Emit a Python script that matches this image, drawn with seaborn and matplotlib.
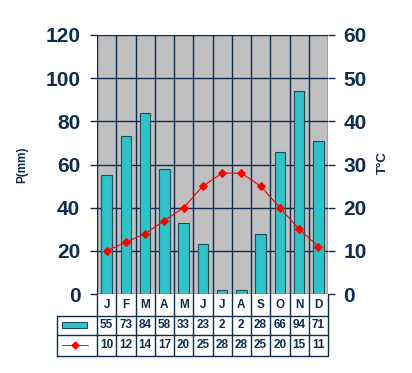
import numpy as np
import matplotlib
matplotlib.use("Agg")
import matplotlib.pyplot as plt
import seaborn as sns
from matplotlib.patches import Rectangle
from matplotlib.lines import Line2D

# data
months = ["Jan", "Feb", "Mar", "Apr", "May", "Jun", "Jul", "Aug", "Sep", "Oct", "Nov", "Dec"]
month_letters = ["J", "F", "M", "A", "M", "J", "J", "A", "S", "O", "N", "D"]
precip = [55, 73, 84, 58, 33, 23, 2, 2, 28, 66, 94, 71]
temps = [10, 12, 14, 17, 20, 25, 28, 28, 25, 20, 15, 11]
p_ticks = [0, 20, 40, 60, 80, 100, 120]
t_ticks = [0, 10, 20, 30, 40, 50, 60]

navy = "#0e2c50"
bar_col = "#2fc3c9"
grey = "#c0c0c0"

sns.set_style("white")
plt.rcParams["font.family"] = ["Liberation Sans", "DejaVu Sans"]

fig = plt.figure(figsize=(4.12, 3.73), dpi=100)
ax = fig.add_axes([97 / 412, 79 / 373, 231 / 412, 259 / 373])
ax.set_facecolor(grey)

sns.barplot(x=months, y=precip, ax=ax, color=bar_col, width=0.55,
            edgecolor="#1c4e5c", linewidth=0.8, saturation=1, zorder=3)
ax.set_xlim(-0.5, 11.5)
ax.set_ylim(0, 120)
ax.set_yticks(p_ticks)
ax.set_xticks([])
ax.set_xlabel("")
ax.set_ylabel("")

# grid: horizontal at ticks, vertical at month boundaries
for v in p_ticks:
    ax.axhline(v, color=navy, lw=1, zorder=1)
for k in range(13):
    ax.axvline(k - 0.5, color=navy, lw=1, zorder=1)

for s in ax.spines.values():
    s.set_visible(False)
ax.tick_params(axis="y", direction="out", length=5, width=1, color=navy,
               labelsize=15, labelcolor=navy, pad=7, left=True)
for lab in ax.get_yticklabels():
    lab.set_fontweight("heavy")

ax2 = ax.twinx()
sns.lineplot(x=np.arange(12), y=temps, ax=ax2, color="#ff0000", lw=0.8,
             marker="D", markersize=4.5, markeredgecolor="#ff0000", zorder=4)
ax2.set_ylim(0, 60)
ax2.set_yticks(t_ticks)
ax2.set_ylabel("")
for s in ax2.spines.values():
    s.set_visible(False)
ax2.tick_params(axis="y", direction="out", length=5, width=1, color=navy,
                labelsize=15, labelcolor=navy, pad=6, right=True)
for lab in ax2.get_yticklabels():
    lab.set_fontweight("heavy")

# table below the plot (x in data units, y in axes fraction)
tr = ax.get_xaxis_transform()
y_top, y_mid, y_bot = -0.085, -0.158, -0.239
x_left = -2.58
for yy in (y_top, y_mid, y_bot):
    ax.plot([x_left, 11.5], [yy, yy], color=navy, lw=1, transform=tr, clip_on=False)
ax.plot([x_left, x_left], [y_top, y_bot], color=navy, lw=1, transform=tr, clip_on=False)
for k in range(13):
    ax.plot([k - 0.5, k - 0.5], [0, y_bot], color=navy, lw=1, transform=tr, clip_on=False)

for k in range(12):
    ax.text(k, y_top / 2, month_letters[k], transform=tr, ha="center", va="center",
            fontsize=8.5, fontweight="bold", color=navy)
    ax.text(k, (y_top + y_mid) / 2, str(precip[k]), transform=tr, ha="center", va="center",
            fontsize=8.5, fontweight="bold", color=navy)
    ax.text(k, (y_mid + y_bot) / 2, str(temps[k]), transform=tr, ha="center", va="center",
            fontsize=8.5, fontweight="bold", color=navy)

# legend symbols in the first column
ax.add_patch(Rectangle((-2.3, -0.133), 1.3, 0.025, transform=tr, clip_on=False,
                       facecolor=bar_col, edgecolor="#1c4e5c", lw=0.8))
ax.add_line(Line2D([-2.3, -0.95], [-0.198, -0.198], transform=tr, clip_on=False,
                   color="#ff0000", lw=0.7))
ax.add_line(Line2D([-1.62], [-0.198], transform=tr, clip_on=False, color="#ff0000",
                   marker="D", markersize=3.5))

fig.text(22 / 412, 1 - 165 / 373, "P(mm)", rotation=90, ha="center", va="center",
         fontsize=8.5, fontweight="bold", color=navy)
fig.text(383 / 412, 1 - 163 / 373, "T°C", rotation=90, ha="center", va="center",
         fontsize=9.5, fontweight="bold", color=navy)

fig.savefig("out.png", dpi=100, facecolor="white")
